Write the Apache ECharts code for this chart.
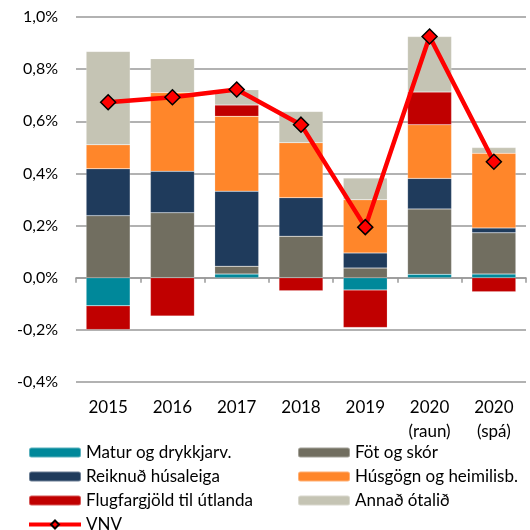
<!DOCTYPE html>
<html>
<head>
<meta charset="utf-8">
<script src="https://cdn.jsdelivr.net/npm/echarts@6/dist/echarts.min.js"></script>
<style>
  html, body { margin: 0; padding: 0; background: #fff; }
  #chart { width: 530px; height: 530px; }
</style>
</head>
<body>
<div id="chart"></div>
<script>
// flokkar (ár)
var years = ['2015', '2016', '2017', '2018', '2019', '2020\n(raun)', '2020\n(spá)'];
// framlag undirliða til verðbólgu, %
var matur    = [-0.108, 0, 0.014, 0, -0.047, 0.013, 0.014];
var fot      = [0.238, 0.249, 0.030, 0.159, 0.037, 0.251, 0.158];
var husaleiga = [0.180, 0.159, 0.288, 0.148, 0.058, 0.117, 0.019];
var husgogn  = [0.092, 0.302, 0.287, 0.211, 0.204, 0.206, 0.286];
var flug     = [-0.091, -0.147, 0.043, -0.050, -0.144, 0.125, -0.054];
var annad    = [0.358, 0.130, 0.059, 0.120, 0.083, 0.213, 0.022];
var vnv      = [0.673, 0.692, 0.722, 0.587, 0.194, 0.925, 0.445];
// ásmerki
var yTicks = { min: -0.4, max: 1.0, interval: 0.2 };

var font = 'Lato';
var names = ['Matur og drykkjarv.', 'Föt og skór', 'Reiknuð húsaleiga',
  'Húsgögn og heimilisb.', 'Flugfargjöld til útlanda', 'Annað ótalið', 'VNV'];
var colors = ['#00889A', '#716E60', '#1F3B5C', '#FF862A', '#C00000', '#C5C4B4'];
var stacks = [matur, fot, husaleiga, husgogn, flug, annad];

var chart = echarts.init(document.getElementById('chart'));

var series = stacks.map(function (d, i) {
  return {
    name: names[i],
    type: 'bar',
    stack: 'vnv',
    xAxisIndex: 0,
    data: d,
    barWidth: 44,
    itemStyle: { color: colors[i], borderColor: 'rgba(255,255,255,0.35)', borderWidth: 0.5 }
  };
});
series.push({
  name: 'VNV',
  type: 'line',
  xAxisIndex: 0,
  data: vnv,
  symbol: 'diamond',
  symbolSize: 15,
  lineStyle: { color: '#FF0000', width: 4.5 },
  itemStyle: { color: '#FF0000', borderColor: '#000', borderWidth: 1.5 },
  z: 10
});

var legendText = { fontSize: 17, color: '#000', fontFamily: font, lineHeight: 16 };

var option = {
  animation: false,
  textStyle: { fontFamily: font },
  grid: { left: 76, right: 4, top: 17, bottom: 148 },
  xAxis: [
    {
      type: 'category',
      data: years,
      axisLine: { onZero: true, lineStyle: { color: '#999', width: 1.5 } },
      axisTick: { show: true, length: 5, inside: false, lineStyle: { color: '#999', width: 1.5 } },
      axisLabel: { show: false }
    },
    {
      type: 'category',
      data: years,
      position: 'bottom',
      axisLine: { show: false },
      axisTick: { show: false },
      axisLabel: { color: '#000', fontSize: 17, fontFamily: font, lineHeight: 24, margin: 14 }
    }
  ],
  yAxis: {
    type: 'value',
    min: yTicks.min,
    max: yTicks.max,
    interval: yTicks.interval,
    axisLine: { show: false },
    axisTick: { show: false },
    splitLine: { lineStyle: { color: '#999', width: 1.5 } },
    axisLabel: {
      color: '#000', fontSize: 16, fontFamily: font, margin: 18,
      formatter: function (v) { return v.toFixed(1).replace('.', ',') + '%'; }
    }
  },
  legend: [
    {
      left: 27, top: 444, orient: 'vertical', padding: 0, height: 90,
      data: [names[0], names[2], names[4],
        { name: names[6], lineStyle: { width: 4, color: '#FF0000' } }],
      itemWidth: 52, itemHeight: 10, itemGap: 7,
      textStyle: legendText
    },
    {
      left: 297, top: 444, orient: 'vertical', padding: 0, height: 90,
      data: [names[1], names[3], names[5]],
      itemWidth: 52, itemHeight: 10, itemGap: 7,
      textStyle: legendText
    }
  ],
  series: series
};
chart.setOption(option);
</script>
</body>
</html>
